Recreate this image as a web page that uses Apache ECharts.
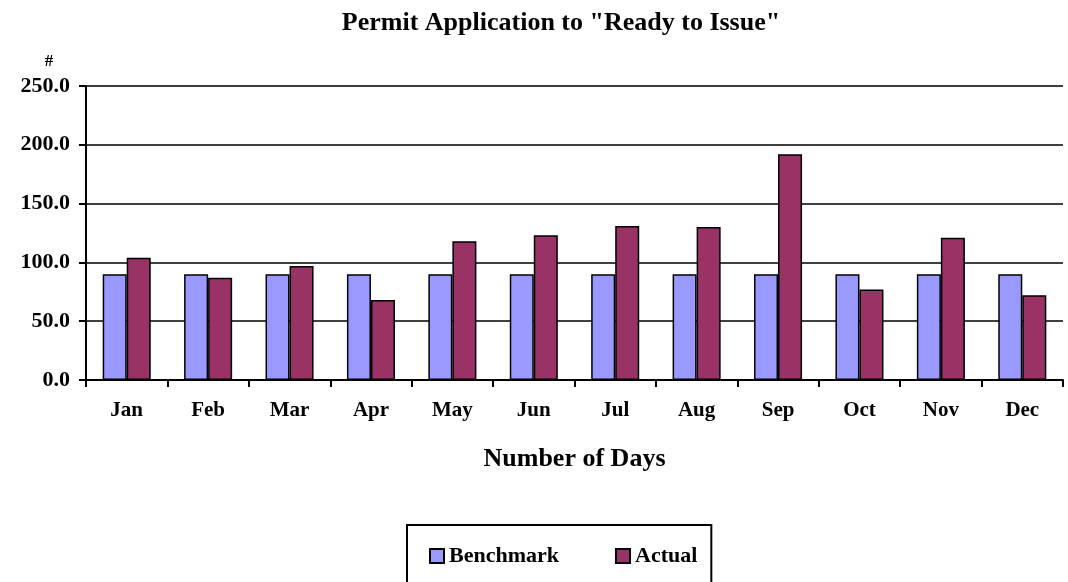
<!DOCTYPE html>
<html>
<head>
<meta charset="utf-8">
<script src="https://cdn.jsdelivr.net/npm/echarts@6/dist/echarts.min.js"></script>
<style>
html,body{margin:0;padding:0;background:#fff;}
#chart{width:1068px;height:582px;}
</style>
</head>
<body>
<div id="chart"></div>
<script>
const categories = ['Jan','Feb','Mar','Apr','May','Jun','Jul','Aug','Sep','Oct','Nov','Dec'];
const benchmark = [90,90,90,90,90,90,90,90,90,90,90,90];
const actual = [104,87,97,68,118,123,131,130,192,77,121,72];
const titleText = 'Permit Application to "Ready to Issue"';
const xAxisTitle = 'Number of Days';
const yAxisTitle = '#';

const FONT = '"Liberation Serif", "Times New Roman", serif';
const chart = echarts.init(document.getElementById('chart'), null, {renderer: 'canvas'});
chart.setOption({
  backgroundColor: '#ffffff',
  animation: false,
  title: [
    {text: titleText, left: 556, top: 5, textAlign: 'center',
     textStyle: {fontFamily: FONT, fontWeight: 'bold', fontSize: 26, color: '#000'}},
    {text: yAxisTitle, left: 44, top: 48, textAlign: 'center',
     textStyle: {fontFamily: FONT, fontWeight: 'bold', fontSize: 17, color: '#000'}}
  ],
  legend: {
    left: 407, top: 525,
    itemWidth: 14, itemHeight: 14, itemGap: 56,
    padding: [20, 14, 40, 22],
    borderColor: '#000', borderWidth: 2,
    icon: 'rect',
    textStyle: {fontFamily: FONT, fontWeight: 'bold', fontSize: 22, color: '#000', padding: [0,0,0,0]},
    data: ['Benchmark', 'Actual']
  },
  grid: {left: 86, right: 5, top: 86, bottom: 202, containLabel: false},
  xAxis: {
    type: 'category', data: categories,
    name: xAxisTitle, nameLocation: 'middle', nameGap: 66,
    nameTextStyle: {fontFamily: FONT, fontWeight: 'bold', fontSize: 26, color: '#000'},
    axisLine: {lineStyle: {color: '#000', width: 2}},
    axisTick: {show: true, length: 7, lineStyle: {color: '#000', width: 2}},
    axisLabel: {fontFamily: FONT, fontWeight: 'bold', fontSize: 21, color: '#000', margin: 20}
  },
  yAxis: {
    type: 'value', min: 0, max: 250, interval: 50,
    axisLine: {show: true, lineStyle: {color: '#000', width: 2}},
    axisTick: {show: true, length: 7, lineStyle: {color: '#000', width: 2}},
    axisLabel: {fontFamily: FONT, fontWeight: 'bold', fontSize: 22, color: '#000', margin: 16,
      formatter: v => v.toFixed(1)},
    splitLine: {show: true, lineStyle: {color: '#000', width: 1.5}}
  },
  series: [
    {name: 'Benchmark', type: 'bar', data: benchmark, barGap: '0%', barCategoryGap: '41%',
     itemStyle: {color: '#9999FF', borderColor: '#000', borderWidth: 1.5}},
    {name: 'Actual', type: 'bar', data: actual,
     itemStyle: {color: '#993366', borderColor: '#000', borderWidth: 1.5}}
  ]
});
</script>
</body>
</html>
